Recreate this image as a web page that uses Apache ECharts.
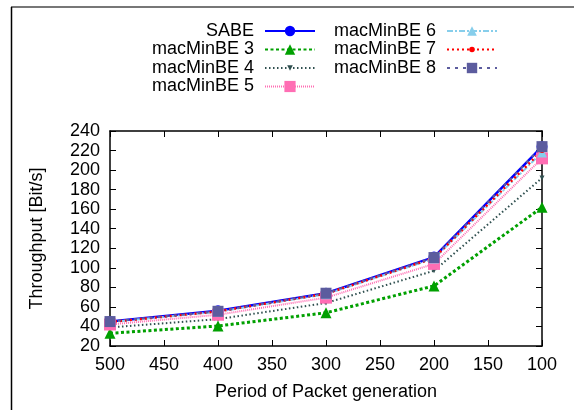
<!DOCTYPE html>
<html>
<head>
<meta charset="utf-8">
<title>Throughput</title>
<script src="https://cdn.jsdelivr.net/npm/echarts@6/dist/echarts.min.js"></script>
<style>
  html, body { margin: 0; padding: 0; background: #fff; }
  #chart { width: 574px; height: 410px; }
</style>
</head>
<body>
<div id="chart"></div>
<script>
// period of packet generation (x) and throughput per series (Bit/s)
var periods = [500, 400, 300, 200, 100];
var seriesNames = ['SABE', 'macMinBE 3', 'macMinBE 4', 'macMinBE 5', 'macMinBE 6', 'macMinBE 7', 'macMinBE 8'];
var sabe   = [45, 56, 74, 111, 224];
var mac3   = [33, 40.5, 54, 81.5, 162];
var mac4   = [39, 47.5, 64, 97, 192];
var mac5   = [42, 52, 69.5, 104, 212];
var mac6   = [44.5, 55, 73, 109.5, 218];
var mac7   = [44.5, 55.5, 73.5, 110, 220];
var mac8   = [45, 55.5, 74, 110.5, 224];
var yTicks = [20, 240, 20]; // min, max, step
var xTicks = [100, 500, 50];

var font = 'Liberation Sans, Arial, Helvetica, sans-serif';
var fs = 18;

var styles = [
  { color: '#0000ff', type: 'solid', width: 2.5, symbol: 'circle', size: 11 },
  { color: '#00a000', type: [3, 2.5], width: 3, symbol: 'triangle', size: 11 },
  { color: '#2f4f4f', type: [1.5, 2.5], width: 2, symbol: 'triangle', size: 5, rotate: 180 },
  { color: '#ff6eb4', type: [1, 1], width: 2, symbol: 'rect', size: 12 },
  { color: '#87ceeb', type: [6, 2, 2, 2], width: 2, symbol: 'triangle', size: 10 },
  { color: '#ff0000', type: [2, 3], width: 2.5, symbol: 'circle', size: 5 },
  { color: '#5c5c9e', type: [3, 5], width: 2, symbol: 'rect', size: 11 }
];
var values = [sabe, mac3, mac4, mac5, mac6, mac7, mac8];

var series = seriesNames.map(function (name, i) {
  var s = styles[i];
  return {
    name: name,
    type: 'line',
    data: periods.map(function (p, j) { return [p, values[i][j]]; }),
    symbol: s.symbol,
    symbolSize: s.size,
    symbolRotate: s.rotate || 0,
    clip: false,
    itemStyle: { color: s.color },
    lineStyle: { color: s.color, type: s.type, width: s.width },
    emphasis: { disabled: true },
    animation: false
  };
});

// one legend per entry so the text ends right-aligned before its key
var legendPos = [
  { right: 258, y: 31 }, { right: 258, y: 49.5 }, { right: 258, y: 68 }, { right: 258, y: 86.5 },
  { right: 76, y: 31 }, { right: 76, y: 49.5 }, { right: 76, y: 68 }
];
var legends = seriesNames.map(function (name, i) {
  var h = Math.max(styles[i].size + 2, 6);
  return {
    data: [name],
    right: legendPos[i].right,
    top: legendPos[i].y - Math.max(h, fs) / 2,
    padding: 0,
    align: 'right',
    itemWidth: 50,
    itemHeight: h,
    selectedMode: false,
    textStyle: { fontFamily: font, fontSize: fs, color: '#000', padding: [0, 6, 0, 0] }
  };
});

var axisLine = { show: true, lineStyle: { color: '#000', width: 1.5 } };
var tickIn = { show: true, inside: true, length: 6, lineStyle: { color: '#000', width: 1 } };

var option = {
  animation: false,
  legend: legends,
  grid: { left: 110, right: 32, top: 131, bottom: 64 },
  xAxis: [{
    type: 'value', inverse: true, min: xTicks[0], max: xTicks[1], interval: xTicks[2],
    name: 'Period of Packet generation', nameLocation: 'middle', nameGap: 37,
    nameTextStyle: { fontFamily: font, fontSize: fs, color: '#000' },
    axisLine: axisLine, axisTick: tickIn, splitLine: { show: false },
    axisLabel: { fontFamily: font, fontSize: fs, color: '#000', margin: 10 }
  }, {
    type: 'value', inverse: true, position: 'top', min: xTicks[0], max: xTicks[1], interval: xTicks[2],
    axisLine: axisLine, axisTick: tickIn, splitLine: { show: false }, axisLabel: { show: false }
  }],
  yAxis: [{
    type: 'value', min: yTicks[0], max: yTicks[1], interval: yTicks[2],
    name: 'Throughput [Bit/s]', nameLocation: 'middle', nameGap: 64,
    nameTextStyle: { fontFamily: font, fontSize: fs, color: '#000' },
    axisLine: axisLine, axisTick: tickIn, splitLine: { show: false },
    axisLabel: { fontFamily: font, fontSize: fs, color: '#000', margin: 10 }
  }, {
    type: 'value', position: 'right', min: yTicks[0], max: yTicks[1], interval: yTicks[2],
    axisLine: axisLine, axisTick: tickIn, splitLine: { show: false }, axisLabel: { show: false }
  }],
  graphic: [
    { type: 'line', shape: { x1: 11, y1: 7, x2: 574, y2: 7 }, style: { stroke: '#777', lineWidth: 2 } },
    { type: 'line', shape: { x1: 11.5, y1: 7, x2: 11.5, y2: 410 }, style: { stroke: '#000', lineWidth: 1.5 } }
  ],
  series: series
};

var chart = echarts.init(document.getElementById('chart'), null, { renderer: 'canvas' });
chart.setOption(option);
</script>
</body>
</html>
